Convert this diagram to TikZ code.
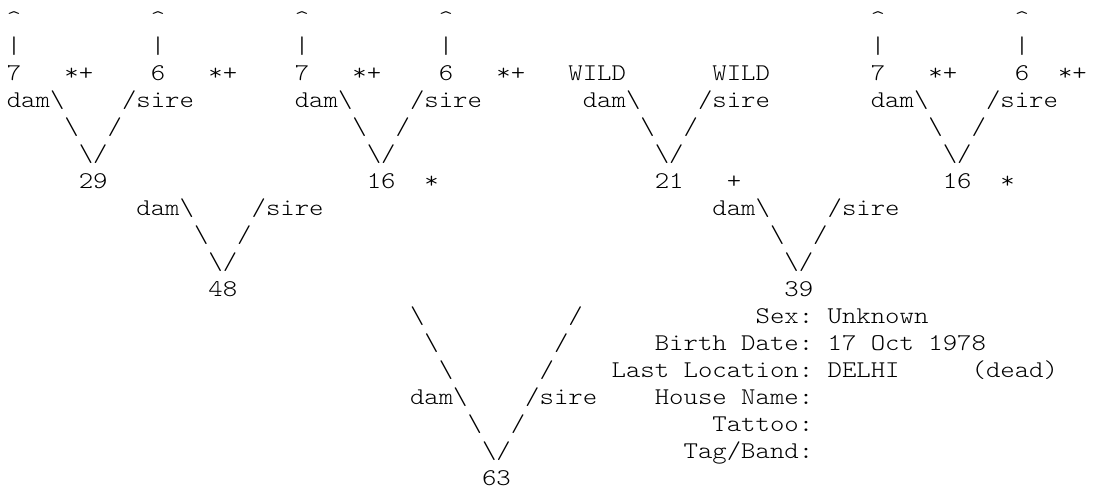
\documentclass[tikz,border=0pt]{standalone}
\usepackage{fontspec}
\usepackage{graphicx}
\newcounter{tn}
\tikzset{asc/.style={anchor=base west,inner sep=0pt,outer sep=0pt,font=\ttfamily\fontseries{l}\fontsize{24}{27}\selectfont,text=black}}
\newcommand\Tx[3]{\stepcounter{tn}\node[asc] (t\arabic{tn}) at ({6.8+(#2)*14.4},{-(26+(#1-1)*27)}) {\scalebox{1.1429}[1]{#3}};}
\newcommand\BS{\textbackslash}
\begin{document}
\begin{tikzpicture}[x=1pt,y=1pt]
\fill[white] (0,0) rectangle (1096,-490);
\useasboundingbox (0,0) rectangle (1096,-490);
% row 1 and 2
\foreach \c in {0,10,20,30,60,70}{
  \Tx{1}{\c}{\textasciicircum}
  \Tx{2}{\c}{\textbar}
}
% row 3
\Tx{3}{0}{7}\Tx{3}{4}{*+}\Tx{3}{10}{6}\Tx{3}{14}{*+}
\Tx{3}{20}{7}\Tx{3}{24}{*+}\Tx{3}{30}{6}\Tx{3}{34}{*+}
\Tx{3}{39}{WILD}\Tx{3}{49}{WILD}
\Tx{3}{60}{7}\Tx{3}{64}{*+}\Tx{3}{70}{6}\Tx{3}{73}{*+}
% rows 4-6
\foreach \a in {0,20,40,60}{
  \Tx{4}{\a}{dam\BS}
  \Tx{4}{\a+8}{/sire}
  \Tx{5}{\a+4}{\BS}
  \Tx{5}{\a+7}{/}
  \Tx{6}{\a+5}{\BS/}
}
% row 7
\Tx{7}{5}{29}\Tx{7}{25}{16}\Tx{7}{29}{*}
\Tx{7}{45}{21}\Tx{7}{50}{+}
\Tx{7}{65}{16}\Tx{7}{69}{*}
% rows 8-11
\foreach \a in {9,49}{
  \Tx{8}{\a}{dam\BS}
  \Tx{8}{\a+8}{/sire}
  \Tx{9}{\a+4}{\BS}
  \Tx{9}{\a+7}{/}
  \Tx{10}{\a+5}{\BS/}
}
\Tx{11}{14}{48}
\Tx{11}{54}{39}
% bottom V
\Tx{12}{28}{\BS}\Tx{12}{39}{/}
\Tx{13}{29}{\BS}\Tx{13}{38}{/}
\Tx{14}{30}{\BS}\Tx{14}{37}{/}
\Tx{15}{28}{dam\BS}\Tx{15}{36}{/sire}
\Tx{16}{32}{\BS}\Tx{16}{35}{/}
\Tx{17}{33}{\BS/}
\Tx{18}{33}{63}
% info
\Tx{12}{52}{Sex:}\Tx{12}{57}{Unknown}
\Tx{13}{45}{Birth~Date:}\Tx{13}{57}{17~Oct~1978}
\Tx{14}{42}{Last~Location:}\Tx{14}{57}{DELHI}\Tx{14}{67}{(dead)}
\Tx{15}{45}{House~Name:}
\Tx{16}{49}{Tattoo:}
\Tx{17}{47}{Tag/Band:}
\end{tikzpicture}
\end{document}
